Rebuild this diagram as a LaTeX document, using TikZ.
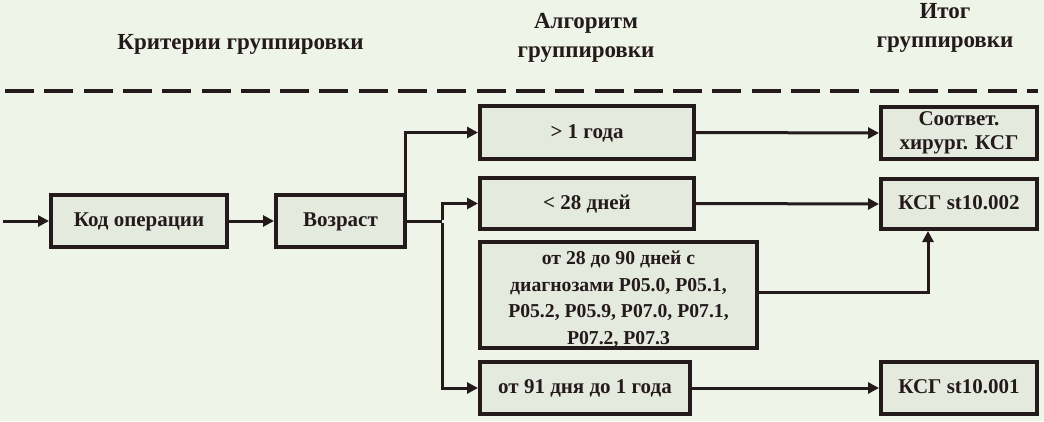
\documentclass[tikz,border=0pt]{standalone}
\usepackage{fontspec}
\setmainfont{Liberation Serif}
\usetikzlibrary{arrows.meta,calc}
\definecolor{bg}{RGB}{238,245,232}
\definecolor{boxfill}{RGB}{228,235,222}
\definecolor{ink}{RGB}{36,26,28}
\begin{document}
\begin{tikzpicture}[x=1pt,y=1pt,
  box/.style={draw=ink,line width=4pt,fill=boxfill,inner sep=0pt,align=center,
    font=\fontsize{21}{25.5}\selectfont\bfseries,text=ink},
  oneline/.style={text depth=2pt},
  conn/.style={draw=ink,line width=3pt},
  arr/.style={conn,-{Triangle[length=11pt,width=11pt]}},
  hdr/.style={font=\fontsize{23}{29}\selectfont\bfseries,text=ink,anchor=base,inner sep=0pt}]
\fill[bg] (0,0) rectangle (1044,421);
\useasboundingbox (0,0) rectangle (1044,421);
% headers
\node[hdr] (h1) at (240.5,371) {Критерии группировки};
\node[hdr] (h2a) at (586,392) {Алгоритм};
\node[hdr] (h2b) at (586,363) {группировки};
\node[hdr] (h3a) at (945,402) {Итог};
\node[hdr] (h3b) at (945,373) {группировки};
% dashed separator
\coordinate (dl) at (5,330);
\coordinate (dr) at (1038,330);
\draw[ink,line width=4pt,dash pattern=on 29pt off 10.3pt] (dl) -- (dr);
% boxes
\node[box,oneline,minimum width=176pt,minimum height=52pt] (kod) at (139,200) {Код операции};
\node[box,oneline,minimum width=129pt,minimum height=52pt] (voz) at (340.5,200) {Возраст};
\node[box,oneline,minimum width=214pt,minimum height=53pt] (g1) at (587,288.5) {> 1 года};
\node[box,oneline,minimum width=214pt,minimum height=51pt] (g2) at (587,217.5) {< 28 дней};
\node[box,minimum width=277pt,minimum height=104pt,font=\fontsize{19.7}{26.6}\selectfont\bfseries] (g3) at (618.5,126)
  {\raisebox{-4pt}[\height][\depth]{\begin{tabular}{@{}c@{}}от 28 до 90 дней с\\диагнозами P05.0, P05.1,\\P05.2, P05.9, P07.0, P07.1,\\P07.2, P07.3\end{tabular}}};
\node[box,oneline,minimum width=210pt,minimum height=52pt] (g4) at (585,33) {от 91 дня до 1 года};
\node[box,minimum width=156pt,minimum height=52pt,font=\fontsize{21}{24}\selectfont\bfseries] (r1) at (959,288) {Соответ.\\хирург. КСГ};
\node[box,oneline,minimum width=156pt,minimum height=50pt] (r2) at (959,217) {КСГ st10.002};
\node[box,oneline,minimum width=156pt,minimum height=52pt] (r3) at (959,33) {КСГ st10.001};
% connectors
\coordinate (in) at (3,200);
\coordinate (j) at (442,200);
\draw[arr] (in) -- (kod.west);
\draw[arr] (kod.east) -- (voz.west);
\draw[arr] ([xshift=-2pt]voz.north east) |- (g1.west);
\draw[conn] (voz.east) -- (j);
\draw[arr] ([yshift=1.5pt]j) |- (g2.west);
\draw[arr] ([yshift=-1.5pt]j) |- (g4.west);
\draw[arr] (g1.east) -- (r1.west);
\draw[arr] (g2.east) -- (r2.west);
\draw[arr] ([yshift=3pt]g3.east) -| ([xshift=-31pt]r2.south);
\draw[arr] (g4.east) -- (r3.west);
\end{tikzpicture}
\end{document}
